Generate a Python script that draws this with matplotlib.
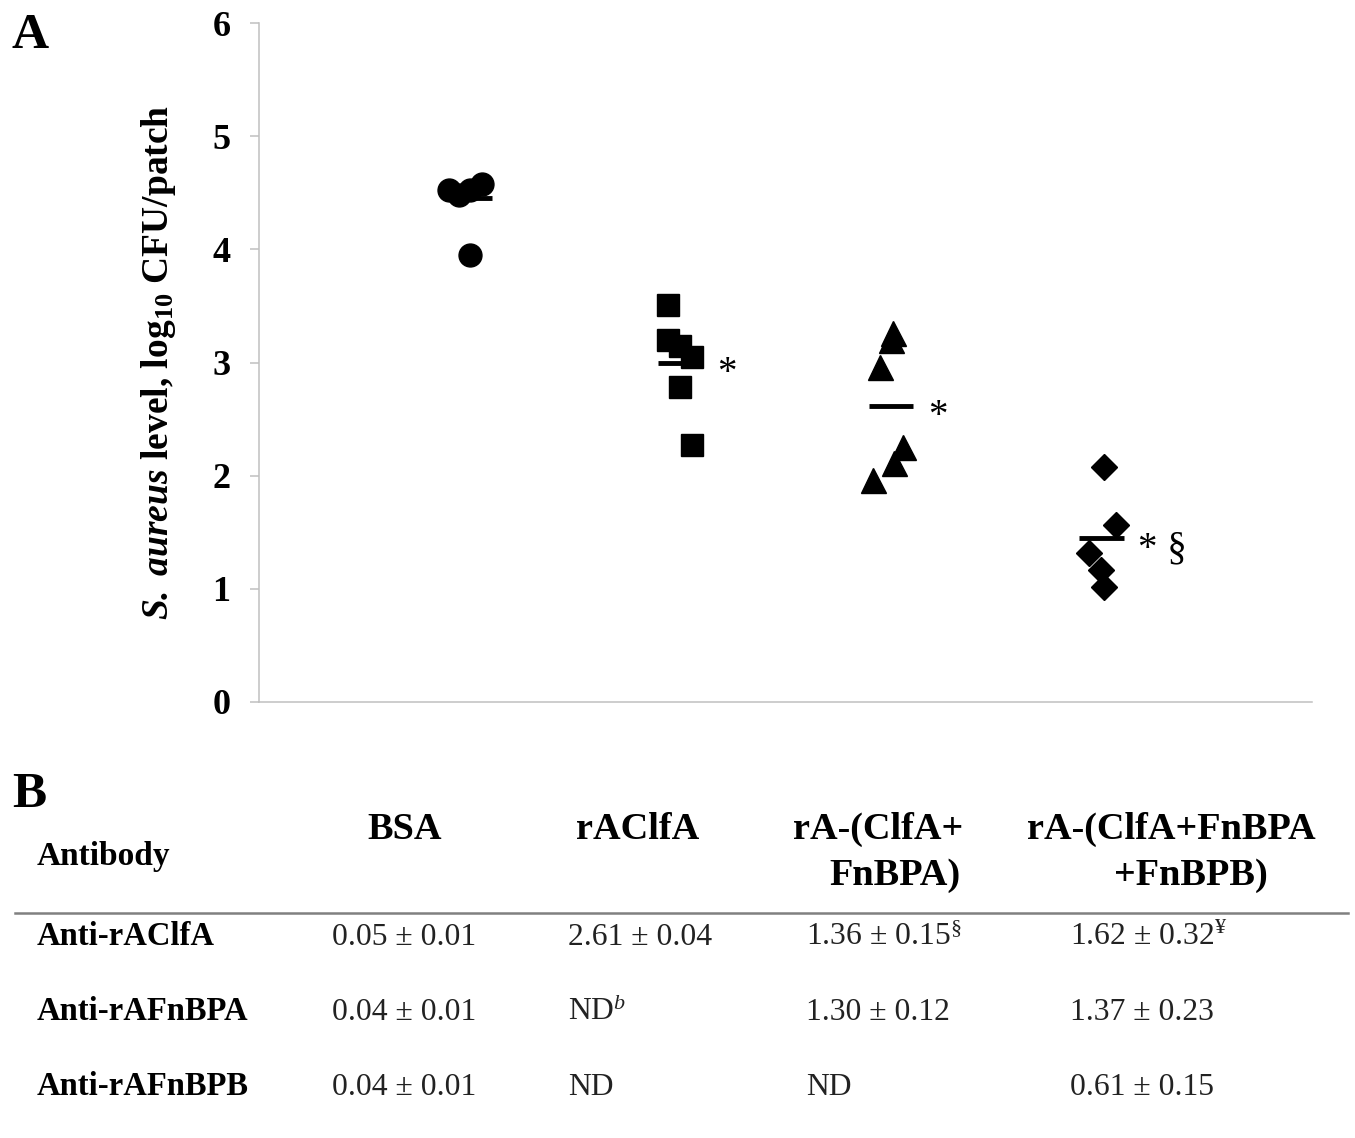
import numpy as np
import matplotlib.pyplot as plt
from matplotlib.lines import Line2D

plt.rcParams['font.family'] = ['Liberation Serif', 'DejaVu Serif']
plt.rcParams['mathtext.fontset'] = 'custom'
plt.rcParams['mathtext.rm'] = 'Liberation Serif'
plt.rcParams['mathtext.it'] = 'Liberation Serif:italic'
plt.rcParams['mathtext.bf'] = 'Liberation Serif:bold'
plt.rcParams['mathtext.bfit'] = 'Liberation Serif:italic:bold'

# panel A: log10 CFU/patch per group
groups = ['BSA', 'rAClfA', 'rA-(ClfA+FnBPA)', 'rA-(ClfA+FnBPA+FnBPB)']
bsa = [4.52, 4.48, 4.52, 4.58, 3.95]
raclfa = [3.51, 3.20, 3.15, 3.05, 2.78, 2.27]
ra_clfa_fnbpa = [3.26, 3.20, 2.96, 2.25, 2.11, 1.96]
ra_triple = [2.08, 1.56, 1.32, 1.17, 1.02]
group_values = [bsa, raclfa, ra_clfa_fnbpa, ra_triple]
# horizontal scatter of the dots around each group
jitter = [[-0.10, -0.05, 0.0, 0.06, 0.0],
          [-0.057, -0.057, 0.0, 0.057, 0.0, 0.057],
          [0.01, 0.0, -0.05, 0.06, 0.015, -0.085],
          [0.01, 0.07, -0.06, 0.0, 0.01]]
means = [4.45, 3.00, 2.62, 1.45]
signif = ['', '*', '*', '* §']
markers = ['o', 's', '^', 'D']
msizes = [16.5, 16.5, 18, 13.5]

# panel B: table
col_headers = [['BSA'], ['rAClfA'], ['rA-(ClfA+', 'FnBPA)'], ['rA-(ClfA+FnBPA', '+FnBPB)']]
row_labels = ['Anti-rAClfA', 'Anti-rAFnBPA', 'Anti-rAFnBPB']
col_bsa = ['0.05 ± 0.01', '0.04 ± 0.01', '0.04 ± 0.01']
col_clfa = ['2.61 ± 0.04', 'ND$^{b}$', 'ND']
col_clfa_fnbpa = ['1.36 ± 0.15$^{§}$', '1.30 ± 0.12', 'ND']
col_triple = ['1.62 ± 0.32$^{¥}$', '1.37 ± 0.23', '0.61 ± 0.15']
table_cols = [col_bsa, col_clfa, col_clfa_fnbpa, col_triple]

W, H = 1355, 1138
fx = lambda x: x / W
fy = lambda y: 1 - y / H

fig = plt.figure(figsize=(W / 100, H / 100), dpi=100)
ax = fig.add_axes([fx(259), fy(702), (1312 - 259) / W, (702 - 23) / H])

for i, (vals, jit) in enumerate(zip(group_values, jitter)):
    x = i + 1 + np.array(jit)
    ax.plot(x, vals, linestyle='none', marker=markers[i], ms=msizes[i],
            color='black', mec='black')
    ax.plot([i + 1 - 0.105, i + 1 + 0.105], [means[i], means[i]],
            color='black', lw=3.5, solid_capstyle='butt')
    if signif[i]:
        ax.annotate(signif[i], (i + 1, means[i]), xytext=(26.5, -15),
                    textcoords='offset points', fontsize=28, va='baseline')

ax.set_xlim(0, 5)
ax.set_ylim(0, 6)
ax.set_xticks([])
ax.set_yticks(range(7))
ax.set_yticklabels([str(v) for v in range(7)], fontsize=26, fontweight='bold')
ax.tick_params(axis='y', length=6.5, width=1.1, color='#c0c0c0', pad=14)
for s in ['top', 'right']:
    ax.spines[s].set_visible(False)
for s in ['left', 'bottom']:
    ax.spines[s].set_color('#c0c0c0')
    ax.spines[s].set_linewidth(1.1)

fig.text(fx(158), fy(362), r'$\mathbfit{S.\ aureus}$ level, log$_{\mathbf{10}}$ CFU/patch',
         rotation=90, ha='center', va='center', fontsize=27, fontweight='bold')

fig.text(fx(12), fy(48), 'A', fontsize=37, fontweight='bold', va='baseline')
fig.text(fx(12), fy(807), 'B', fontsize=37, fontweight='bold', va='baseline')

# table header
head_x = [[405], [638], [878, 895], [1171, 1191]]
head_y = [839, 885]
for lines, xs in zip(col_headers, head_x):
    for j, (t, x) in enumerate(zip(lines, xs)):
        fig.text(fx(x), fy(head_y[j]), t, ha='center', va='baseline',
                 fontsize=27.5, fontweight='bold')
fig.text(fx(37), fy(865), 'Antibody', fontsize=24, fontweight='bold', va='baseline')
fig.add_artist(Line2D([fx(15), fx(1348)], [fy(913), fy(913)], color='#808080', lw=1.8))

row_y = [945, 1020, 1095]
col_x = [332, 568, 806, 1070]
for r, lab in enumerate(row_labels):
    fig.text(fx(37), fy(row_y[r]), lab, fontsize=23.5, fontweight='bold', va='baseline')
    for c, col in enumerate(table_cols):
        fig.text(fx(col_x[c]), fy(row_y[r]), col[r], fontsize=22.8, color='#222222',
                 va='baseline')

fig.savefig('out.png', dpi=100)
